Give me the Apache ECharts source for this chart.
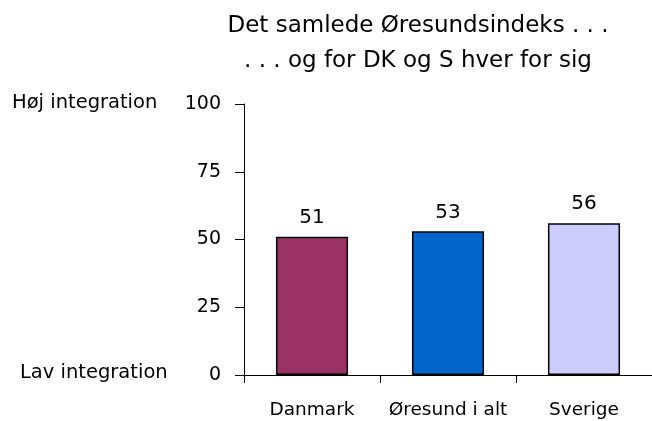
<!DOCTYPE html>
<html><head><meta charset="utf-8">
<script src="https://cdn.jsdelivr.net/npm/echarts@6/dist/echarts.min.js"></script>
<style>html,body{margin:0;padding:0;background:#fff}#c{width:652px;height:421px}</style>
</head><body><div id="c"></div>
<script>
const categories = ['Danmark', 'Øresund i alt', 'Sverige'];
const values = [51, 53, 56];
const barColors = ['#993366', '#0066CC', '#CCCCFF'];
const titleLines = ['Det samlede Øresundsindeks . . .', '. . . og for DK og S hver for sig'];
const yMin = 0, yMax = 100, yInterval = 25;
const highLabel = 'Høj integration';
const lowLabel = 'Lav integration';

const FONT = 'DejaVu Sans';
const chart = echarts.init(document.getElementById('c'), null, {renderer: 'canvas'});
chart.setOption({
  animation: false,
  title: {
    text: titleLines.join('\n'),
    left: 413, top: 4, textAlign: 'center',
    textStyle: {fontFamily: FONT, fontSize: 23, fontWeight: 'normal', color: '#000', lineHeight: 35}
  },
  grid: {left: 244, top: 104, width: 412, height: 271, containLabel: false},
  xAxis: {
    type: 'category', data: categories,
    axisLine: {lineStyle: {color: '#000', width: 1}},
    axisTick: {show: true, length: 8, alignWithLabel: false, lineStyle: {color: '#000'}},
    axisLabel: {interval: 0, hideOverlap: false, fontFamily: FONT, fontSize: 18.5, color: '#000', margin: 26}
  },
  yAxis: {
    type: 'value', min: yMin, max: yMax, interval: yInterval,
    axisLine: {show: true, lineStyle: {color: '#000', width: 1}},
    axisTick: {show: true, length: 9, lineStyle: {color: '#000'}},
    splitLine: {show: false},
    axisLabel: {fontFamily: FONT, fontSize: 19, color: '#000', margin: 23}
  },
  graphic: [
    {type: 'text', left: 12, top: 93, style: {text: highLabel, font: '19.5px "' + FONT + '"', fill: '#000'}},
    {type: 'text', left: 20, top: 363, style: {text: lowLabel, font: '19.5px "' + FONT + '"', fill: '#000'}}
  ],
  series: [{
    type: 'bar', barWidth: '53%',
    data: values.map((v, i) => ({value: v, itemStyle: {color: barColors[i]}})),
    itemStyle: {borderColor: '#000', borderWidth: 1.5},
    label: {show: true, position: 'top', distance: 9, fontFamily: FONT, fontSize: 20, color: '#000'}
  }]
});
</script></body></html>
